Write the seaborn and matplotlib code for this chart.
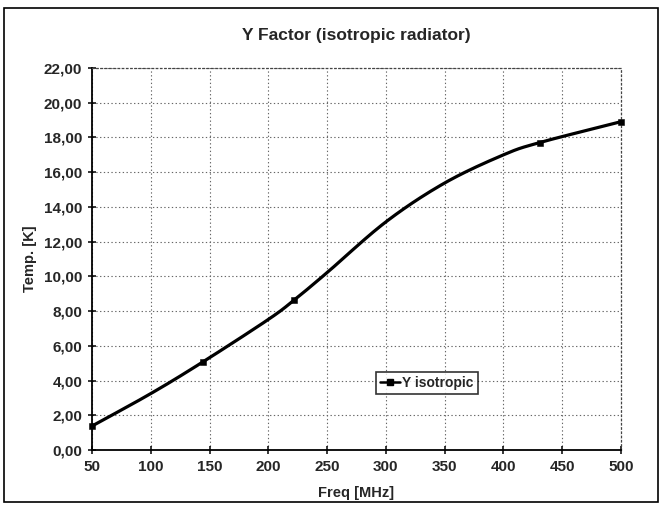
import numpy as np
import pandas as pd
import matplotlib
matplotlib.use("Agg")
import matplotlib.pyplot as plt
import seaborn as sns
from matplotlib.lines import Line2D
from matplotlib.patches import Rectangle
from matplotlib.ticker import FuncFormatter

# Marked data points
freq_mhz = [50, 144, 222, 431, 500]
temp_k = [1.38, 5.06, 8.64, 17.71, 18.91]
# Course of the smoothed line
curve_freq = [50, 100, 144, 200, 222, 250, 300, 350, 400, 431, 500]
curve_temp = [1.38, 3.25, 5.06, 7.52, 8.64, 10.22, 13.14, 15.38, 17.00, 17.71, 18.91]
series_name = "Y isotropic"
x_ticks = [50, 100, 150, 200, 250, 300, 350, 400, 450, 500]
y_ticks = [0, 2, 4, 6, 8, 10, 12, 14, 16, 18, 20, 22]

sns.set_theme(style="white")
plt.rcParams['font.family'] = ['Liberation Sans', 'DejaVu Sans']
plt.rcParams['font.weight'] = 'bold'

df = pd.DataFrame({"Freq": freq_mhz, "Temp": temp_k})

fig = plt.figure(figsize=(6.63, 5.08), dpi=100)
ax = fig.add_axes([0.1388, 0.1142, 0.7979, 0.7519])

# smooth rendering of the line (Catmull-Rom through the read course)
def catmull_rom(xs, ys, n=30):
    P = np.column_stack([xs, ys]).astype(float)
    P = np.vstack([P[0] - (P[1] - P[0]), P, P[-1] + (P[-1] - P[-2])])
    out = []
    for i in range(1, len(P) - 2):
        p0, p1, p2, p3 = P[i - 1], P[i], P[i + 1], P[i + 2]
        t = np.linspace(0, 1, n)[:, None]
        seg = 0.5 * ((2 * p1) + (-p0 + p2) * t + (2 * p0 - 5 * p1 + 4 * p2 - p3) * t ** 2
                     + (-p0 + 3 * p1 - 3 * p2 + p3) * t ** 3)
        out.append(seg)
    s = np.vstack(out)
    return s[:, 0], s[:, 1]

sx, sy = catmull_rom(curve_freq, curve_temp)
sns.lineplot(x=sx, y=sy, ax=ax, color="black", linewidth=2.3, sort=False, estimator=None)
sns.scatterplot(data=df, x="Freq", y="Temp", ax=ax, marker="s", s=22,
                color="black", edgecolor="black", zorder=5, clip_on=False)

ax.set_xlim(50, 500)
ax.set_ylim(0, 22)
ax.set_xticks(x_ticks)
ax.set_yticks(y_ticks)
ax.yaxis.set_major_formatter(FuncFormatter(lambda v, p: f"{v:.2f}".replace(".", ",")))

ax.grid(True, color="#666666", linestyle=(0, (1.2, 2.2)), linewidth=0.8)
for side in ["top", "right"]:
    ax.spines[side].set_linestyle((0, (1.2, 2.2)))
    ax.spines[side].set_color("#444444")
    ax.spines[side].set_linewidth(0.9)
for side in ["left", "bottom"]:
    ax.spines[side].set_color("black")
    ax.spines[side].set_linewidth(1.3)

ax.tick_params(axis="both", direction="inout", length=6, width=1.1, color="black",
               labelsize=11, pad=4, left=True, bottom=True)
for lab in ax.get_xticklabels() + ax.get_yticklabels():
    lab.set_fontweight("bold")

ax.set_title("Y Factor (isotropic radiator)", fontsize=12.5, fontweight="bold", pad=20)
ax.set_xlabel("Freq [MHz]", fontsize=10.5, fontweight="bold", labelpad=9)
ax.set_ylabel("Temp. [K]", fontsize=10.5, fontweight="bold", labelpad=5)

handle = Line2D([0], [0], color="black", linewidth=1.8, marker="s", markersize=4)
leg = ax.legend([handle], [series_name], loc="lower left",
                bbox_to_anchor=(0.537, 0.146), frameon=True, fancybox=False,
                handlelength=1.4, handletextpad=0.2, borderpad=0.3, borderaxespad=0,
                prop={"weight": "bold", "size": 10})
leg.get_frame().set_edgecolor("black")
leg.get_frame().set_linewidth(1.2)

# outer chart border
fig.patches.append(Rectangle((0.006, 0.012), 0.986, 0.972, transform=fig.transFigure,
                             fill=False, edgecolor="black", linewidth=1.2))

fig.savefig("out.png", dpi=100, facecolor="white")
